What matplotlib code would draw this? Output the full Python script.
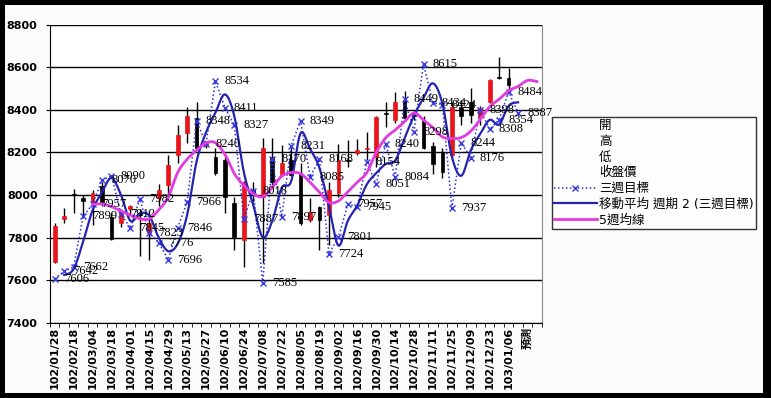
import numpy as np
import pandas as pd
import matplotlib
matplotlib.use("Agg")
import matplotlib.pyplot as plt
from matplotlib.lines import Line2D
from matplotlib.patches import Rectangle

plt.rcParams["font.family"] = ["DejaVu Sans", "Noto Sans CJK TC"]

# weekly categories (last one has no label in the source)
dates = ["102/01/28", "102/02/04", "102/02/18", "102/02/25", "102/03/04", "102/03/11",
         "102/03/18", "102/03/25", "102/04/01", "102/04/08", "102/04/15", "102/04/22",
         "102/04/29", "102/05/06", "102/05/13", "102/05/20", "102/05/27", "102/06/03",
         "102/06/10", "102/06/17", "102/06/24", "102/07/01", "102/07/08", "102/07/15",
         "102/07/22", "102/07/29", "102/08/05", "102/08/12", "102/08/19", "102/08/26",
         "102/09/02", "102/09/09", "102/09/16", "102/09/23", "102/09/30", "102/10/07",
         "102/10/14", "102/10/21", "102/10/28", "102/11/04", "102/11/11", "102/11/18",
         "102/11/25", "102/12/02", "102/12/09", "102/12/16", "102/12/23", "102/12/30",
         "103/01/06", "103/01/13", "預測", ""]

# weekly candles
opens = [7686, 7888, 8005, 7985, 7968, 8040, 7895, 7867, 7933, 7915, 7820, 7985, 8047,
         8188, 8290, 8361, 8228, 8178, 8164, 7962, 7788, 8024, 7990, 8178, 8094, 8164,
         8103, 7882, 7943, 7906, 8009, 8165, 8195, 8215, 8178, 8385, 8352, 8446, 8380,
         8352, 8230, 8200, 8190, 8415, 8437, 8366, 8438, 8555, 8550]
highs = [7867, 7938, 8027, 8000, 8024, 8060, 7915, 7935, 7955, 7935, 7930, 8050, 8190,
         8330, 8413, 8437, 8255, 8220, 8178, 7990, 8065, 8060, 8267, 8267, 8235, 8235,
         8150, 7985, 7950, 8060, 8240, 8258, 8265, 8295, 8370, 8437, 8483, 8490, 8395,
         8370, 8250, 8220, 8437, 8446, 8504, 8420, 8545, 8650, 8595]
lows = [7680, 7868, 7915, 7895, 7860, 7950, 7790, 7850, 7910, 7715, 7695, 7950, 7975,
        8150, 8245, 8210, 8220, 8093, 7915, 7740, 7661, 7965, 7680, 8045, 8090, 8090,
        7858, 7875, 7740, 7765, 7990, 8130, 8190, 8165, 8130, 8320, 8340, 8355, 8350,
        8215, 8100, 8080, 8180, 8330, 8340, 8330, 8430, 8545, 8495]
closes = [7854, 7903, 7998, 7970, 8010, 7965, 7795, 7920, 7948, 7905, 7867, 8024, 8140,
          8282, 8370, 8220, 8245, 8103, 7990, 7802, 8062, 8005, 8220, 8062, 8150, 8094,
          7868, 7920, 7882, 8024, 8164, 8160, 8210, 8222, 8366, 8380, 8437, 8361, 8370,
          8220, 8145, 8108, 8415, 8370, 8378, 8408, 8542, 8550, 8517]

# 三週目標
target = [7606, 7642, 7662, 7899, 7957, 8070, 8090, 7912, 7845, 7982, 7823, 7776, 7696,
          7846, 7966, 8348, 8240, 8534, 8411, 8327, 7887, 8018, 7585, 8170, 7897, 8231,
          8349, 8085, 8168, 7724, 7801, 7957, 7945, 8154, 8051, 8240, 8084, 8449, 8298,
          8615, 8434, 8424, 7937, 8244, 8176, 8398, 8308, 8354, 8484, 8387]

# 5週均線 (starts at the 5th week)
ma5_start = 4
ma5 = [7955, 7958, 7945, 7925, 7905, 7888, 7888, 7930, 7990, 8105, 8168, 8210, 8245,
       8245, 8190, 8100, 8045, 8005, 7992, 8035, 8088, 8105, 8100, 8060, 8013, 7965,
       7972, 8015, 8060, 8105, 8200, 8268, 8305, 8345, 8385, 8352, 8316, 8273, 8265,
       8270, 8300, 8355, 8415, 8450, 8490, 8510, 8538, 8533]

yticks = [7400, 7600, 7800, 8000, 8200, 8400, 8600, 8800]


def smooth(xs, ys, n=12):
    # excel style smoothed line (catmull-rom through the points)
    pts = np.column_stack([xs, ys]).astype(float)
    P = np.vstack([pts[0], pts, pts[-1]])
    t = np.linspace(0, 1, n, endpoint=False)[:, None]
    out = []
    for k in range(1, len(P) - 2):
        p0, p1, p2, p3 = P[k - 1], P[k], P[k + 1], P[k + 2]
        seg = 0.5 * (2 * p1 + (-p0 + p2) * t + (2 * p0 - 5 * p1 + 4 * p2 - p3) * t ** 2
                     + (-p0 + 3 * p1 - 3 * p2 + p3) * t ** 3)
        out.append(seg)
    out.append(pts[-1:])
    out = np.vstack(out)
    return out[:, 0], out[:, 1]


W, H = 771, 398
fig = plt.figure(figsize=(W / 100, H / 100), dpi=100)
fig.patch.set_facecolor("black")
fig.patches.append(Rectangle((5 / W, 5 / H), 758 / W, 388 / H, transform=fig.transFigure,
                             facecolor="#fbfbfb", edgecolor="none", zorder=-5))

ax = fig.add_axes([50 / W, (H - 322.7) / H, 491.7 / W, 298 / H])
ax.set_facecolor("white")

# candles
idx = np.arange(len(opens))
o = np.array(opens)
c = np.array(closes)
ax.vlines(idx, lows, highs, color="black", lw=1, zorder=2)
up = c >= o
body_col = np.where(up, "#e8151b", "black")
ax.bar(idx, np.abs(c - o), bottom=np.minimum(o, c), width=0.4, color=body_col,
       edgecolor=body_col, lw=0.5, zorder=3)

# 三週目標 dotted with markers + labels
tx = np.arange(len(target))
ax.plot(tx, target, ls=(0, (1, 1.6)), color="#2a2ae8", lw=1.1, marker="x", ms=4.5,
        mew=1.0, mec="#3a3ae0", zorder=4)
for i, v in enumerate(target):
    ax.annotate(str(v), (i, v), xytext=(6.5, 0), textcoords="offset points",
                va="center", ha="left", fontsize=9, family="Liberation Serif",
                color="black", zorder=6)

# moving average, period 2
ma2 = pd.Series(target).rolling(2).mean()
mx = tx[1:]
sx, sy = smooth(mx, ma2.values[1:])
ax.plot(sx, sy, color="#2424b0", lw=1.6, zorder=5)

# 5週均線
px = np.arange(ma5_start, ma5_start + len(ma5))
sx, sy = smooth(px, ma5)
ax.plot(sx, sy, color="#e03ce0", lw=2.0, zorder=5)

ax.set_xlim(-0.5, len(dates) - 0.5)
ax.set_ylim(7400, 8800)
ax.set_yticks(yticks)
ax.set_yticklabels([str(v) for v in yticks], fontsize=8, fontweight="bold")
ax.yaxis.grid(True, color="black", lw=1)
ax.set_axisbelow(True)
ax.tick_params(axis="y", length=3, pad=6)

idx_lab = np.arange(0, len(dates), 2)
ax.set_xticks(idx_lab)
ax.set_xticklabels([dates[i] for i in idx_lab], rotation=90, fontsize=8, fontweight="bold")
ax.set_xticks(np.arange(-0.5, len(dates)), minor=True)
ax.tick_params(axis="x", which="major", length=0, pad=3)
ax.tick_params(axis="x", which="minor", length=3)

ax.spines["top"].set_visible(False)
ax.spines["right"].set_color("#888888")
for s in ("left", "bottom"):
    ax.spines[s].set_color("black")

# legend
blank = Line2D([], [], color="none")
handles = [blank, blank, blank, blank,
           Line2D([], [], ls=(0, (1, 1.6)), color="#2a2ae8", lw=1.1, marker="x", ms=4.5,
                  mec="#3a3ae0"),
           Line2D([], [], color="#2424b0", lw=1.6),
           Line2D([], [], color="#e03ce0", lw=2.0)]
labels = ["開", "高", "低", "收盤價", "三週目標", "移動平均 週期 2 (三週目標)", "5週均線"]
leg = fig.legend(handles, labels, loc="upper left", bbox_to_anchor=(552 / W, (H - 117) / H),
                 frameon=True, fancybox=False, fontsize=9, handlelength=3.4,
                 handletextpad=0.2, labelspacing=0.22, borderpad=0.16, borderaxespad=0)
leg.get_frame().set_edgecolor("black")
leg.get_frame().set_linewidth(1)

fig.savefig("out.png", dpi=100, facecolor=fig.get_facecolor())
